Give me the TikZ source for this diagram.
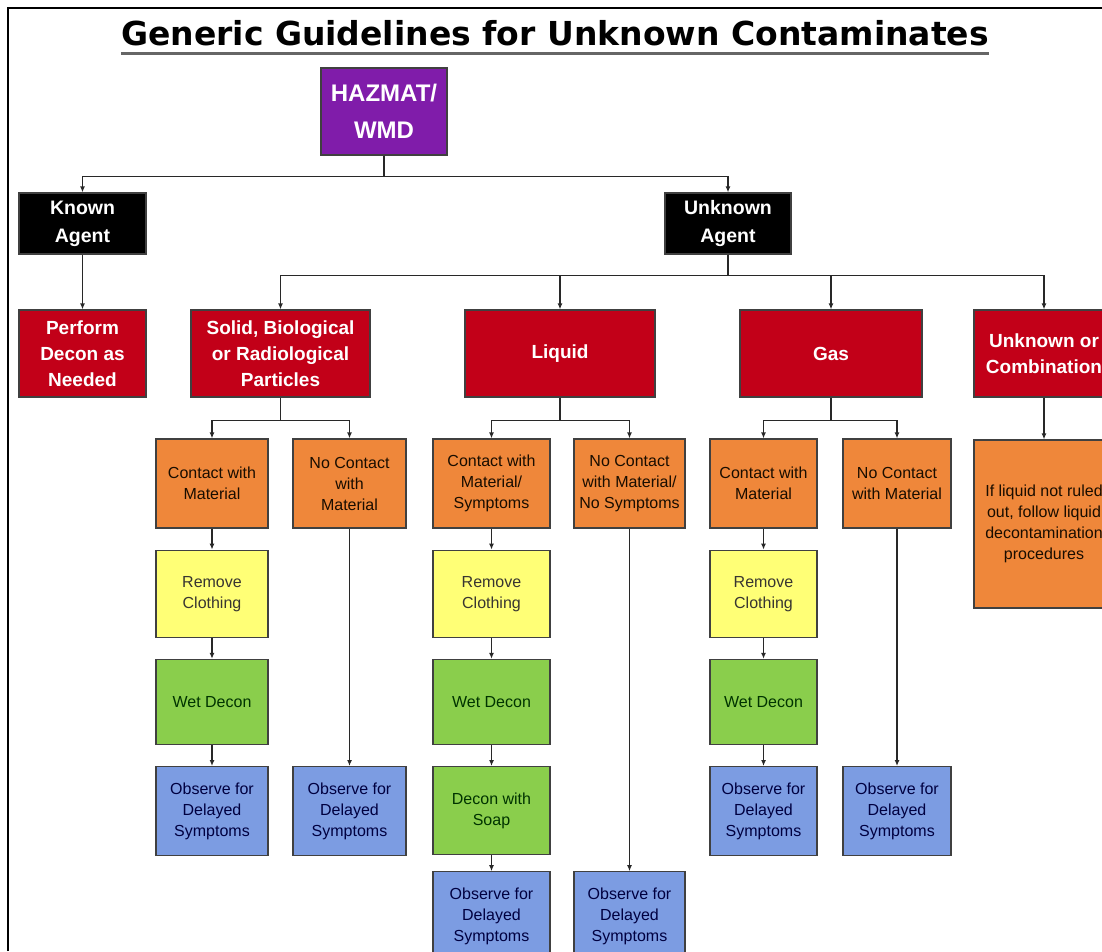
\documentclass[tikz,border=0pt]{standalone}
\usepackage{fontspec}
\setmainfont{Liberation Sans}
\newfontfamily\titlefont{DejaVu Sans}
\usetikzlibrary{arrows.meta, positioning}

\definecolor{hzpurple}{RGB}{128,28,170}
\definecolor{statered}{RGB}{194,0,24}
\definecolor{contactorange}{RGB}{239,135,58}
\definecolor{clothyellow}{RGB}{255,255,118}
\definecolor{decongreen}{RGB}{138,206,76}
\definecolor{observeblue}{RGB}{124,156,226}
\definecolor{linegray}{RGB}{40,40,40}

\begin{document}
\begin{tikzpicture}[
    x=1pt, y=-1pt,
    >={Latex[length=6pt,width=5pt]},
    node distance=21pt,
    box/.style={draw=black!75, line width=1.2pt, rectangle, align=center, inner sep=2pt},
    topbox/.style={box, fill=hzpurple, text=white, font=\bfseries\fontsize{24}{37}\selectfont, minimum width=126pt, minimum height=87pt},
    agentbox/.style={box, fill=black, text=white, font=\bfseries\fontsize{19.5}{28}\selectfont, minimum width=127pt, minimum height=61pt},
    statebox/.style={box, fill=statered, text=white, font=\bfseries\fontsize{19}{26}\selectfont, minimum height=87pt},
    contactbox/.style={box, fill=contactorange, text=black!90!orange, font=\fontsize{16}{21}\selectfont, minimum height=89pt},
    clothbox/.style={box, fill=clothyellow, text=black!90!yellow, font=\fontsize{16}{21}\selectfont, minimum height=87pt},
    deconbox/.style={box, fill=decongreen, text=black!80!green, font=\fontsize{16}{21}\selectfont, minimum height=85pt},
    observebox/.style={box, fill=observeblue, text=black!75!blue, font=\fontsize{16}{21}\selectfont, minimum height=89pt},
    link/.style={->, draw=linegray, line width=1.6pt}
]
\clip (0,0) rectangle (1102,951);

% frame and title
\draw[line width=2.5pt] (8,951) -- (8,8) -- (1102,8);
\node[anchor=base, inner sep=0pt, font=\titlefont\bfseries\fontsize{33}{40}\selectfont] (title) at (555,45) {Generic Guidelines for Unknown Contaminates};
\draw[line width=3pt, black!60] ([yshift=-8.5pt]title.base west) -- ([yshift=-8.5pt]title.base east);

% top levels
\node[topbox] (hazmat) at (384,111.5) {HAZMAT/\\WMD};
\node[agentbox] (known) at (82.5,223.5) {Known\\Agent};
\node[agentbox, minimum width=126pt] (unknown) at (728,223.5) {Unknown\\Agent};

\node[statebox, minimum width=127pt] (perform) at (82.5,353.5) {Perform\\Decon as\\Needed};
\node[statebox, minimum width=179pt] (solid) at (280.5,353.5) {Solid, Biological\\or Radiological\\Particles};
\node[statebox, minimum width=190pt] (liquid) at (560,353.5) {Liquid};
\node[statebox, minimum width=182pt] (gas) at (831,353.5) {Gas};
\node[statebox, minimum width=140pt] (unkcomb) at (1044,353.5) {Unknown or\\Combination};

% Solid column
\node[contactbox, minimum width=112pt] (sc) at (212,483.5) {Contact with\\Material};
\node[contactbox, minimum width=113pt] (sn) at (349.5,483.5) {No Contact\\with\\Material};
\node[clothbox, minimum width=112pt, below=of sc] (sy) {Remove\\Clothing};
\node[deconbox, minimum width=112pt, below=of sy] (sg) {Wet Decon};
\node[observebox, minimum width=112pt, below=of sg] (sb) {Observe for\\Delayed\\Symptoms};
\node[observebox, minimum width=113pt] (snb) at (sn |- sb) {Observe for\\Delayed\\Symptoms};

% Liquid column
\node[contactbox, minimum width=117pt] (lc) at (491.5,483.5) {Contact with\\Material/\\Symptoms};
\node[contactbox, minimum width=111pt] (ln) at (629.5,483.5) {No Contact\\with Material/\\No Symptoms};
\node[clothbox, minimum width=117pt, below=of lc] (ly) {Remove\\Clothing};
\node[deconbox, minimum width=117pt, below=of ly] (lg) {Wet Decon};
\node[deconbox, minimum width=117pt, minimum height=88pt, below=of lg] (ls) {Decon with\\Soap};
\node[observebox, minimum width=117pt, below=16pt of ls] (lb) {Observe for\\Delayed\\Symptoms};
\node[observebox, minimum width=111pt] (lnb) at (ln |- lb) {Observe for\\Delayed\\Symptoms};

% Gas column
\node[contactbox, minimum width=107pt] (gc) at (763.5,483.5) {Contact with\\Material};
\node[contactbox, minimum width=108pt] (gn) at (897,483.5) {No Contact\\with Material};
\node[clothbox, minimum width=107pt, below=of gc] (gy) {Remove\\Clothing};
\node[deconbox, minimum width=107pt, below=of gy] (gg) {Wet Decon};
\node[observebox, minimum width=107pt, below=of gg] (gb) {Observe for\\Delayed\\Symptoms};
\node[observebox, minimum width=108pt] (gnb) at (gn |- gb) {Observe for\\Delayed\\Symptoms};

% Unknown or combination
\node[contactbox, minimum width=140pt, minimum height=168pt] (uc) at (1044,524) {If liquid not ruled\\out, follow liquid\\decontamination\\procedures};

% connectors
\draw[link] (hazmat.south) -- ++(0,21) -| (known.north);
\draw[link] (hazmat.south) -- ++(0,21) -| (unknown.north);
\draw[link] (known) -- (perform);
\foreach \kind in {solid, liquid, gas, unkcomb}
  \draw[link] (unknown.south) -- ++(0,21) -| (\kind.north);
\draw[link] (solid.south) -- ++(0,23) -| (sc.north);
\draw[link] (solid.south) -- ++(0,23) -| (sn.north);
\draw[link] (liquid.south) -- ++(0,23) -| (lc.north);
\draw[link] (liquid.south) -- ++(0,23) -| (ln.north);
\draw[link] (gas.south) -- ++(0,23) -| (gc.north);
\draw[link] (gas.south) -- ++(0,23) -| (gn.north);
\draw[link] (unkcomb) -- (uc);

\draw[link] (sc) -- (sy);
\draw[link] (sy) -- (sg);
\draw[link] (sg) -- (sb);
\draw[link] (sn) -- (snb);
\draw[link] (lc) -- (ly);
\draw[link] (ly) -- (lg);
\draw[link] (lg) -- (ls);
\draw[link] (ls) -- (lb);
\draw[link] (ln) -- (lnb);
\draw[link] (gc) -- (gy);
\draw[link] (gy) -- (gg);
\draw[link] (gg) -- (gb);
\draw[link] (gn) -- (gnb);

\end{tikzpicture}
\end{document}
